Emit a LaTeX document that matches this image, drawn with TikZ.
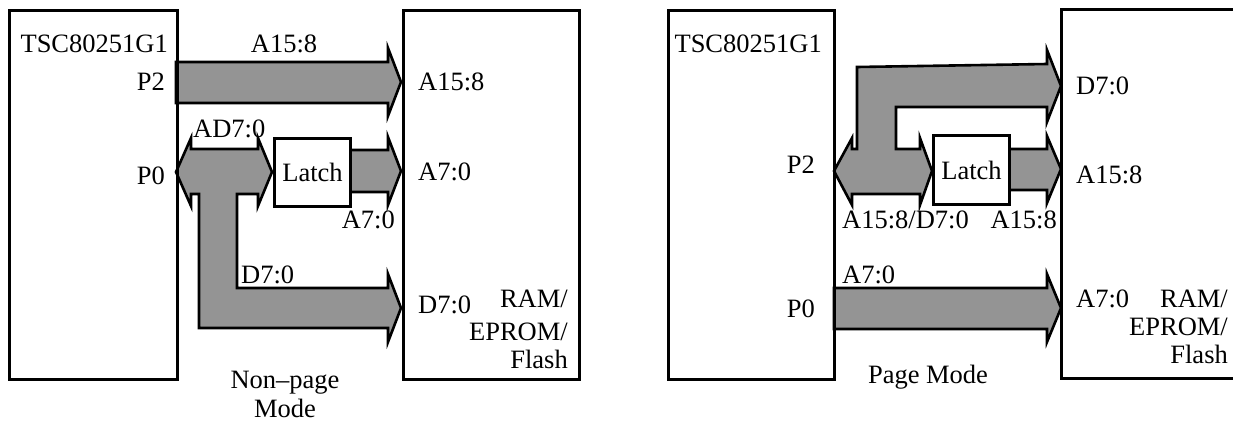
\documentclass[tikz,border=0pt]{standalone}
\usepackage{fontspec}
\setmainfont{Liberation Serif}
\begin{document}
\begin{tikzpicture}[x=1pt,y=-1pt,
  box/.style={draw, line width=3pt, inner sep=0pt, anchor=north west},
  bus/.style={draw, line width=2.6pt, fill=black!42, line join=miter},
  lbl/.style={inner sep=0pt, font=\fontsize{26.5}{29}\selectfont},
]
\useasboundingbox (0,0) rectangle (1233,423);

% ---------- left: non-page mode ----------
\draw[bus] (176,62) -- (388,62) -- (388,48) -- (401,82) -- (388,116) -- (388,103) -- (176,103) -- cycle;
\draw[bus] (176,172) -- (191,138) -- (191,149) -- (258,149) -- (258,138) -- (272,172) -- (258,206) -- (258,194)
  -- (237,194) -- (237,288) -- (388,288) -- (388,274) -- (401,308) -- (388,342) -- (388,328)
  -- (199,328) -- (199,194) -- (191,194) -- (191,206) -- cycle;
\draw[bus] (349,150) -- (388,150) -- (388,137) -- (401,171) -- (388,205) -- (388,192) -- (349,192) -- cycle;

\node[box, minimum width=168pt, minimum height=369pt] (cpuL) at (8,9) {};
\node[box, minimum width=176pt, minimum height=369pt] (memL) at (402,9) {};
\node[box, lbl, fill=white, minimum width=76pt, minimum height=68pt] (latL) at (273,137) {Latch};

\node[lbl, anchor=base east] (tscL) at (168,52) {TSC80251G1};
\node[lbl, anchor=base east] (p2L) at (165,90) {P2};
\node[lbl, anchor=base east] (p0L) at (165,184) {P0};
\node[lbl, anchor=base] (a158L) at (284,52) {A15:8};
\node[lbl, anchor=base west] (ad70L) at (193,137) {AD7:0};
\node[lbl, anchor=base east] (a70L) at (395,228) {A7:0};
\node[lbl, anchor=base west] (d70L) at (241,283) {D7:0};
\node[lbl, anchor=base] (np1) at (285,388) {Non–page};
\node[lbl, anchor=base] (np2) at (285,417) {Mode};
\node[lbl, anchor=base west] (ma158L) at (418,90) {A15:8};
\node[lbl, anchor=base west] (ma70L) at (418,180) {A7:0};
\node[lbl, anchor=base west] (md70L) at (418,313) {D7:0};
\node[lbl, anchor=base east] (ramL) at (568,307) {RAM/};
\node[lbl, anchor=base east] (epromL) at (568,340) {EPROM/};
\node[lbl, anchor=base east] (flashL) at (568,368) {Flash};

% ---------- right: page mode ----------
\draw[bus] (834,171) -- (852,138) -- (852,149) -- (857,149) -- (857,67) -- (1047,64) -- (1047,50) -- (1061,86)
  -- (1047,122) -- (1047,107) -- (896,107) -- (896,149) -- (920,149) -- (920,138) -- (932,171)
  -- (920,205) -- (920,194) -- (852,194) -- (852,205) -- cycle;
\draw[bus] (1008,149) -- (1047,149) -- (1047,136) -- (1061,169) -- (1047,203) -- (1047,190) -- (1008,190) -- cycle;
\draw[bus] (834,288) -- (1047,288) -- (1047,274) -- (1061,308) -- (1047,342) -- (1047,329) -- (834,329) -- cycle;

\node[box, minimum width=166pt, minimum height=369pt] (cpuR) at (667,9) {};
\coordinate (memRtr) at (1233,9);
\coordinate (memRbr) at (1233,378);
\draw[line width=3pt] (memRtr) -- (1061,9) -- (1061,378) -- (memRbr);
\node[box, lbl, fill=white, minimum width=76pt, minimum height=69pt] (latR) at (932,134) {Latch};

\node[lbl, anchor=base east] (tscR) at (822,52) {TSC80251G1};
\node[lbl, anchor=base east] (p2R) at (815,173) {P2};
\node[lbl, anchor=base east] (p0R) at (815,317) {P0};
\node[lbl, anchor=base west] (adR) at (842,228) {A15:8/D7:0};
\node[lbl, anchor=base east] (a158R) at (1057,228) {A15:8};
\node[lbl, anchor=base west] (a70R) at (842,283) {A7:0};
\node[lbl, anchor=base] (pm) at (928,383) {Page Mode};
\node[lbl, anchor=base west] (md70R) at (1076,94) {D7:0};
\node[lbl, anchor=base west] (ma158R) at (1076,183) {A15:8};
\node[lbl, anchor=base west] (ma70R) at (1076,307) {A7:0};
\node[lbl, anchor=base east] (ramR) at (1228,307) {RAM/};
\node[lbl, anchor=base east] (epromR) at (1228,335) {EPROM/};
\node[lbl, anchor=base east] (flashR) at (1228,363) {Flash};
\end{tikzpicture}
\end{document}
